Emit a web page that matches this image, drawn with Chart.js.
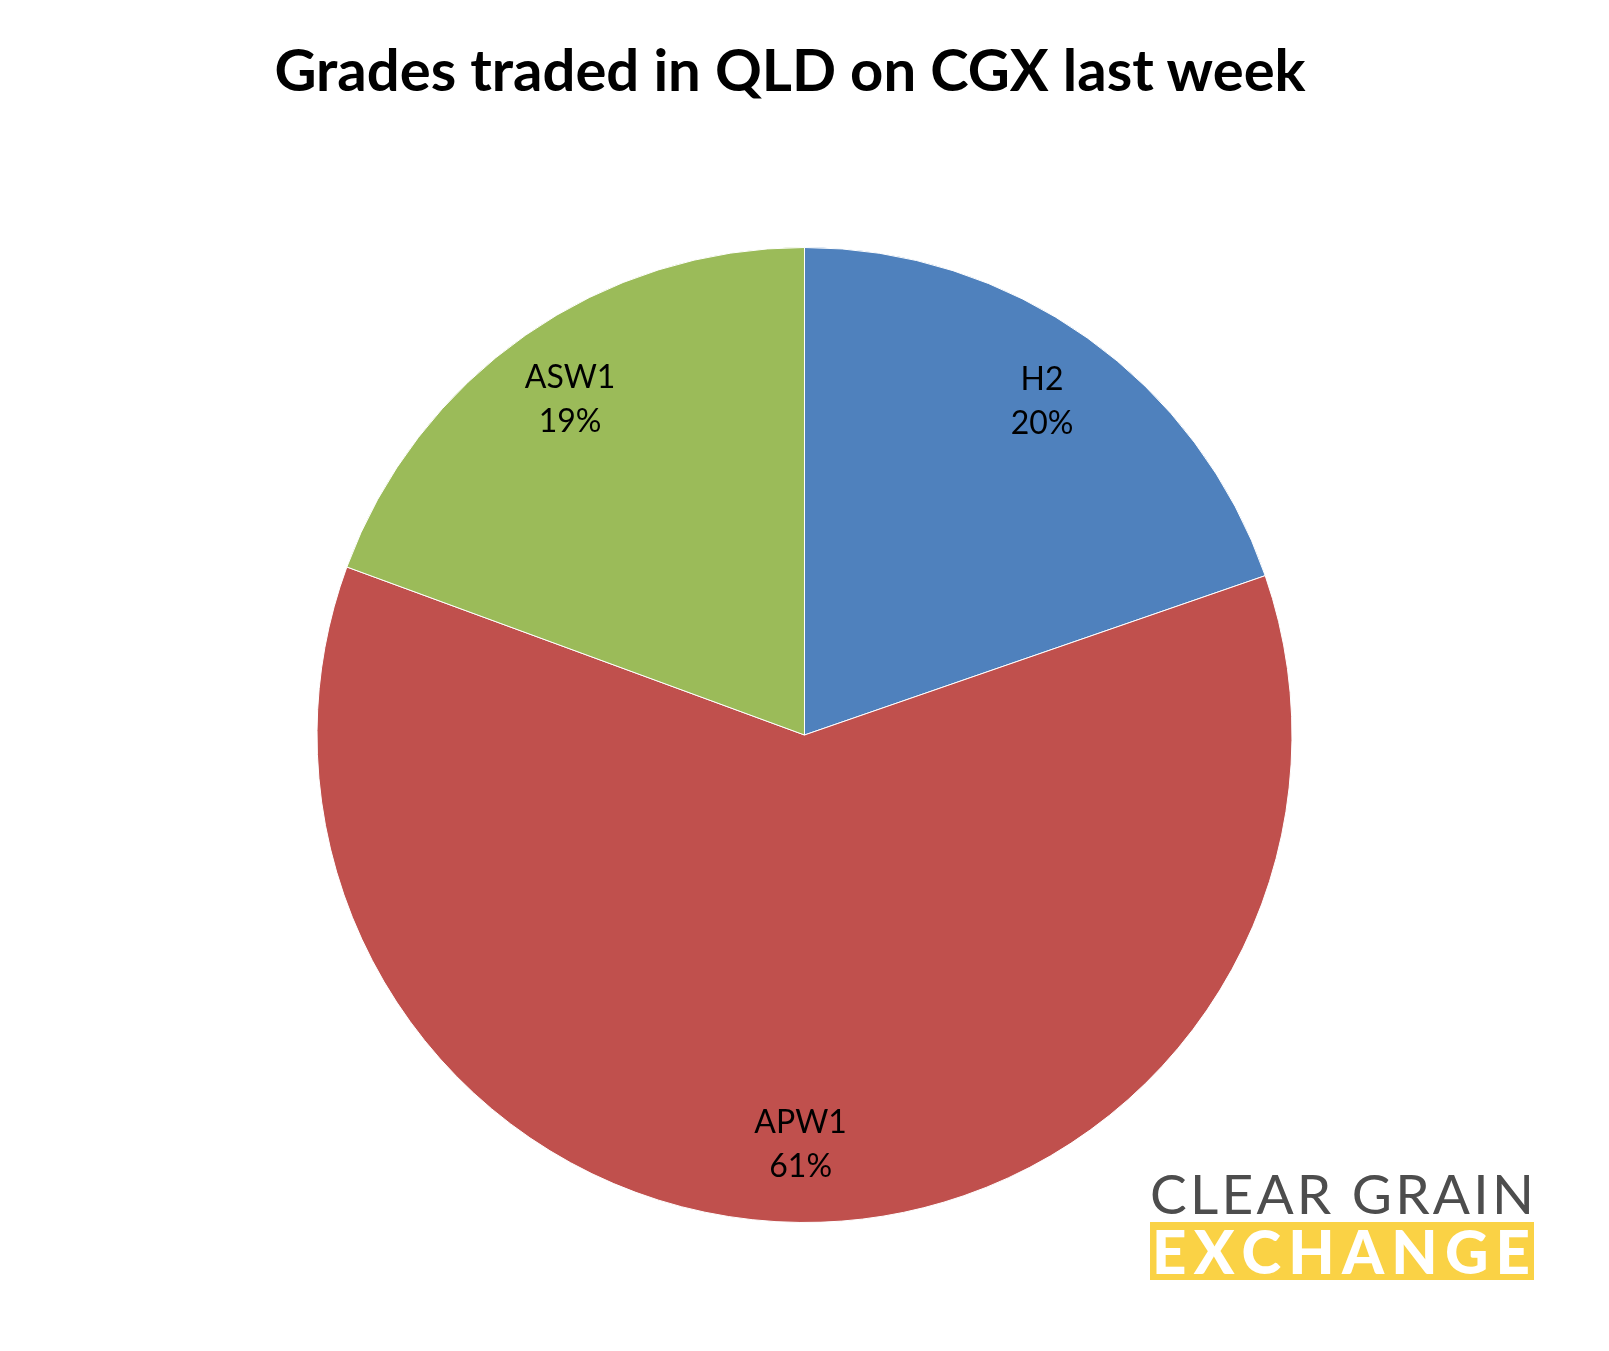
<!DOCTYPE html>
<html>
<head>
<meta charset="utf-8">
<script src="https://cdn.jsdelivr.net/npm/chart.js@4"></script>
<style>
  html, body { margin: 0; padding: 0; background: #fff; }
  #wrap { position: relative; width: 1609px; height: 1351px; }
  #title {
    position: absolute; left: 0; top: 34px; width: 1580px; text-align: center;
    font-family: Lato, "Open Sans", sans-serif; font-weight: 700; font-size: 58px; line-height: 70px; color: #000;
  }
  #logo { position: absolute; left: 1150px; top: 1166px; width: 384px; }
  #logo .row { display: flex; justify-content: space-between; white-space: pre; }
  #logo .top {
    font-family: Lato, sans-serif; font-weight: 400; font-size: 55px; line-height: 54px; color: #4d4d4d;
  }
  #logo .bot {
    margin-top: 2px; height: 58px; background: #fad245; color: #fff; font-family: Lato, sans-serif;
    font-weight: 900; font-size: 60px; line-height: 58px; padding: 0 4px 0 2px;
  }
</style>
</head>
<body>
<div id="wrap">
  <canvas id="myChart" width="1609" height="1351"></canvas>
  <div id="title">Grades traded in QLD on CGX last week</div>
  <div id="logo">
    <div class="row top" data-text="CLEAR GRAIN"></div>
    <div class="row bot" data-text="EXCHANGE"></div>
  </div>
</div>
<script>
const grades = ['H2', 'APW1', 'ASW1'];
const shares = [19.7, 60.9, 19.4];
const sliceColors = ['#4f81bd', '#c0504d', '#9bbb59'];

// spread logo letters over the box width
document.querySelectorAll('#logo .row').forEach(row => {
  row.dataset.text.split('').forEach(ch => {
    const s = document.createElement('span');
    s.textContent = ch;
    row.appendChild(s);
  });
});

// draws "name / pct" inside each slice, like the Excel data labels
const sliceLabels = {
  id: 'sliceLabels',
  afterDatasetsDraw(chart) {
    const ctx = chart.ctx;
    const meta = chart.getDatasetMeta(0);
    const total = shares.reduce((a, b) => a + b, 0);
    ctx.save();
    ctx.fillStyle = '#000';
    ctx.font = '32px Lato, "Open Sans", sans-serif';
    ctx.textAlign = 'center';
    ctx.textBaseline = 'middle';
    meta.data.forEach((arc, i) => {
      const mid = (arc.startAngle + arc.endAngle) / 2;
      const r = arc.outerRadius * 0.84;
      const x = arc.x + Math.cos(mid) * r;
      const y = arc.y + Math.sin(mid) * r;
      ctx.fillText(grades[i], x, y - 22);
      ctx.fillText(Math.round(shares[i] / total * 100) + '%', x, y + 22);
    });
    ctx.restore();
  }
};

const ctx = document.getElementById('myChart');
new Chart(ctx, {
  type: 'pie',
  data: {
    labels: grades,
    datasets: [{
      data: shares,
      backgroundColor: sliceColors,
      borderColor: '#ffffff',
      borderWidth: 1,
    }],
  },
  options: {
    responsive: false,
    animation: false,
    layout: { padding: { top: 247, bottom: 128, left: 0, right: 0 } },
    plugins: {
      legend: { display: false },
      tooltip: { enabled: false },
      title: { display: false },
    },
  },
  plugins: [sliceLabels],
});
</script>
</body>
</html>
